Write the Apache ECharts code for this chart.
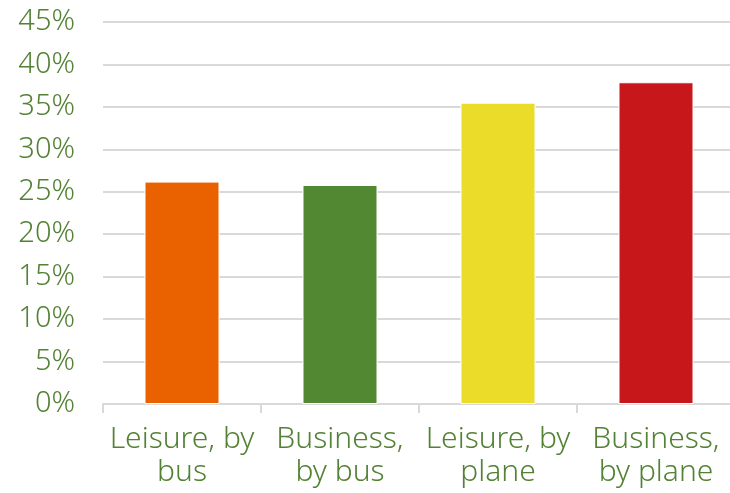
<!DOCTYPE html>
<html><head><meta charset="utf-8">
<script src="https://cdn.jsdelivr.net/npm/echarts@6/dist/echarts.min.js"></script>
<style>html,body{margin:0;padding:0;background:#fff}#c{width:730px;height:493px}</style>
</head><body><div id="c"></div>
<script>
const categories = ["Leisure, by\nbus", "Business,\nby bus", "Leisure, by\nplane", "Business,\nby plane"];
const values = [26.2, 25.8, 35.5, 37.9];
const barColors = ["#EA6100", "#538832", "#EBDC2A", "#C8171A"];
const yTicks = [0, 5, 10, 15, 20, 25, 30, 35, 40, 45];

const textColor = "#548235";
const font = "Noto Sans";
const chart = echarts.init(document.getElementById('c'), null, {renderer: 'canvas'});
chart.setOption({
  animation: false,
  grid: {left: 103, width: 632, top: 22, bottom: 89, containLabel: false, outerBoundsMode: 'none'},
  xAxis: {
    type: 'category',
    data: categories,
    axisLine: {show: true, lineStyle: {color: '#d9d9d9', width: 2}},
    axisTick: {show: true, length: 9, lineStyle: {color: '#d9d9d9', width: 2}},
    axisLabel: {color: textColor, fontFamily: font, fontWeight: 300, fontSize: 30, lineHeight: 33, margin: 19, interval: 0}
  },
  yAxis: {
    type: 'value',
    min: yTicks[0], max: yTicks[yTicks.length - 1], interval: 5,
    axisLine: {show: false}, axisTick: {show: false},
    splitLine: {lineStyle: {color: '#d9d9d9', width: 2}},
    axisLabel: {color: textColor, fontFamily: font, fontWeight: 300, fontSize: 29, margin: 28, formatter: v => v + '%'}
  },
  series: [{
    type: 'bar',
    barWidth: 75,
    data: values.map((v, i) => ({value: v, itemStyle: {color: barColors[i]}})),
    itemStyle: {borderColor: '#fff', borderWidth: 1}
  }]
});
</script></body></html>
